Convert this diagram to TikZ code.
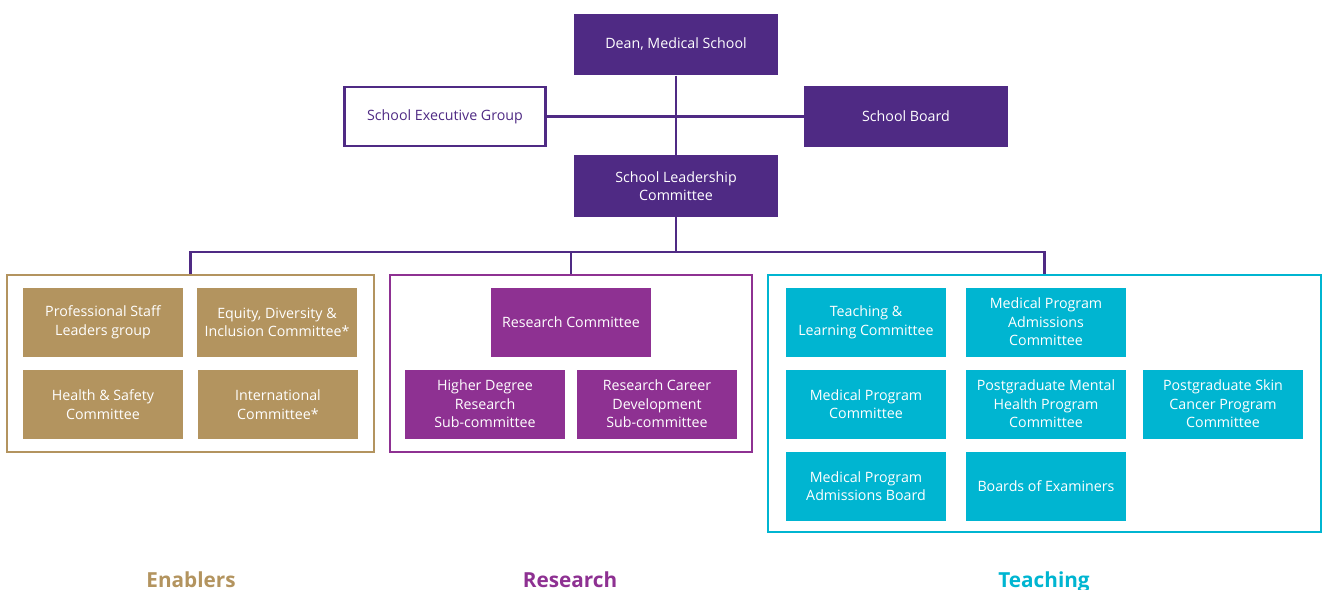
\documentclass[tikz,border=0pt]{standalone}
\usepackage{fontspec}
\setmainfont{Open Sans}
\usetikzlibrary{backgrounds}
\definecolor{deanpurple}{HTML}{4F2A84}
\definecolor{enabgold}{HTML}{B3945F}
\definecolor{respurple}{HTML}{8E3192}
\definecolor{teachcyan}{HTML}{00B5D1}
\begin{document}
\begin{tikzpicture}[x=0.02cm,y=-0.02cm,
  txt/.style={font=\fontsize{8.1}{10.6}\selectfont,align=center,inner sep=0pt},
  lead/.style={txt,fill=deanpurple,text=white,minimum width=4.08cm,minimum height=1.23cm},
  leadopen/.style={txt,draw=deanpurple,line width=1.4pt,fill=white,text=deanpurple,minimum width=4.02cm,minimum height=1.18cm},
  enab/.style={txt,fill=enabgold,text=white,minimum width=3.2cm,minimum height=1.38cm},
  res/.style={txt,fill=respurple,text=white,minimum width=3.2cm,minimum height=1.38cm},
  teach/.style={txt,fill=teachcyan,text=white,minimum width=3.2cm,minimum height=1.38cm},
  group/.style={draw=#1,line width=1.4pt,inner sep=0pt},
  caption/.style={font=\fontsize{11.8}{14}\selectfont\bfseries,text=#1,anchor=base},
  link/.style={draw=deanpurple,line width=1.4pt}]
  \useasboundingbox (0,0) rectangle (1324,589);

  \node (dean) at (676,44.5) [lead]{Dean, Medical School};
  \node (seg) at (445,116.5) [leadopen]{School Executive Group};
  \node (sb) at (906,116.5) [lead]{School Board};
  \node (slc) at (676,186) [lead]{School Leadership\\Committee};

  \node (enabbox) at (190.5,363.5) [group=enabgold,minimum width=7.34cm,minimum height=3.54cm]{};
  \node (resbox) at (571,363.5) [group=respurple,minimum width=7.24cm,minimum height=3.54cm]{};
  \node (teachbox) at (1044.5,403.5) [group=teachcyan,minimum width=11.06cm,minimum height=5.14cm]{};

  \node (psl) at (103,322.5) [enab]{Professional Staff\\Leaders group};
  \node (edi) at (277,322.5) [enab]{Equity, Diversity \&\\Inclusion Committee*};
  \node (hs) at (103,404.5) [enab]{Health \& Safety\\Committee};
  \node (intl) at (278,404.5) [enab]{International\\Committee*};

  \node (rc) at (571,322) [res]{Research Committee};
  \node (hdr) at (485,404) [res]{Higher Degree\\Research\\Sub-committee};
  \node (rcd) at (657,404) [res]{Research Career\\Development\\Sub-committee};

  \node (tl) at (866,322) [teach]{Teaching \&\\Learning Committee};
  \node (mpac) at (1046,322) [teach]{Medical Program\\Admissions\\Committee};
  \node (mpc) at (866,404) [teach]{Medical Program\\Committee};
  \node (pmh) at (1046,404) [teach]{Postgraduate Mental\\Health Program\\Committee};
  \node (psc) at (1223,404) [teach]{Postgraduate Skin\\Cancer Program\\Committee};
  \node (mpab) at (866,486) [teach]{Medical Program\\Admissions Board};
  \node (boe) at (1046,486) [teach]{Boards of Examiners};

  \node (lblenab) at (191,587) [caption=enabgold]{Enablers};
  \node (lblres) at (570,587) [caption=respurple]{Research};
  \node (lblteach) at (1044,587) [caption=teachcyan]{Teaching};

  \coordinate (bar) at (676,252);

  % links go behind the boxes
  \begin{scope}[on background layer]
    \draw[link] (dean) -- (slc);
    \draw[link] (seg) -- (sb);
    \draw[link] (slc) -- (bar);
    \draw[link] (enabbox.north) |- (bar) -| (teachbox.north);
    \draw[link] (resbox.north) -- (resbox.north |- bar);
  \end{scope}
\end{tikzpicture}
\end{document}
